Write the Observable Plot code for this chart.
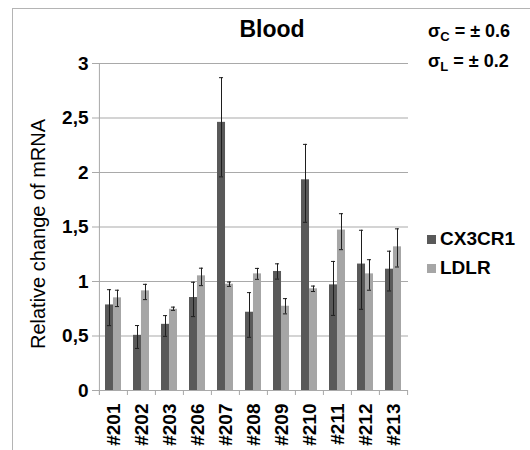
<!DOCTYPE html>
<html>
<head>
<meta charset="utf-8">
<script src="https://cdn.jsdelivr.net/npm/d3@7"></script>
<script src="https://cdn.jsdelivr.net/npm/@observablehq/plot@0.6"></script>
<style>
  html, body { margin: 0; padding: 0; background: #fff; }
  #wrap { position: relative; width: 530px; height: 450px; overflow: hidden; font-family: "Liberation Sans", Arial, sans-serif; color: #000; }
  #wrap svg { position: absolute; left: 0; top: 0; }
  .border { position: absolute; left: 12px; top: 8px; width: 600px; height: 600px; border-left: 1px solid #b4b4b4; border-top: 1px solid #b4b4b4; }
  .title { position: absolute; left: 172px; width: 200px; top: 16px; text-align: center; font-weight: bold; font-size: 23px; }
  .sigma { position: absolute; left: 428px; font-weight: bold; font-size: 18px; white-space: nowrap; }
  .sigma sub { font-size: 13px; vertical-align: -4px; }
  .ylab { position: absolute; left: 38px; top: 234px; transform: translate(-50%, -50%) rotate(-90deg); white-space: nowrap; font-size: 20px; }
  .leg { position: absolute; left: 427px; font-weight: bold; font-size: 19px; white-space: nowrap; display: flex; align-items: center; }
  .leg i { display: inline-block; width: 9px; height: 9px; margin-right: 4px; }
</style>
</head>
<body>
<div id="wrap"></div>
<script>
const categories = ["#201","#202","#203","#206","#207","#208","#209","#210","#211","#212","#213"];
const seriesNames = ["CX3CR1", "LDLR"];
const seriesColors = ["#595959", "#a6a6a6"];
const cx3cr1     = [0.785, 0.506, 0.607, 0.853, 2.46, 0.718, 1.092, 1.933, 0.969, 1.16, 1.113];
const cx3cr1Up   = [0.14, 0.09, 0.08, 0.14, 0.41, 0.18, 0.07, 0.325, 0.215, 0.31, 0.165];
const cx3cr1Down = [0.19, 0.12, 0.11, 0.175, 0.50, 0.23, 0.07, 0.39, 0.28, 0.415, 0.20];
const ldlr       = [0.85, 0.914, 0.745, 1.052, 0.975, 1.07, 0.773, 0.933, 1.472, 1.07, 1.318];
const ldlrUp     = [0.07, 0.06, 0.02, 0.07, 0.02, 0.05, 0.07, 0.025, 0.15, 0.13, 0.165];
const ldlrDown   = [0.08, 0.08, 0.01, 0.09, 0.02, 0.05, 0.07, 0.025, 0.18, 0.15, 0.185];
const yTicks = [0, 0.5, 1, 1.5, 2, 2.5, 3];
const title = "Blood";
const sigmaC = "± 0.6";
const sigmaL = "± 0.2";
const yLabel = "Relative change of mRNA";

const rows = [];
categories.forEach((c, i) => {
  rows.push({cat: c, series: seriesNames[0], value: cx3cr1[i], lo: cx3cr1[i] - cx3cr1Down[i], hi: cx3cr1[i] + cx3cr1Up[i]});
  rows.push({cat: c, series: seriesNames[1], value: ldlr[i], lo: ldlr[i] - ldlrDown[i], hi: ldlr[i] + ldlrUp[i]});
});
const C = rows.filter(d => d.series === seriesNames[0]);
const L = rows.filter(d => d.series === seriesNames[1]);

const W = 530, H = 450, mL = 98, mR = 122, mT = 63, mB = 60;
const step = (W - mL - mR) / categories.length;
const padIn = 0.434;
const bw = step * (1 - padIn);
const half = bw / 2;
const errColor = "#1e1e1e";
const axisGray = "#a9a9a9";

const plot = Plot.plot({
  width: W, height: H,
  marginLeft: mL, marginRight: mR, marginTop: mT, marginBottom: mB,
  style: {fontFamily: "'Liberation Sans', Arial, sans-serif", background: "transparent", color: "#000"},
  x: {domain: categories, paddingInner: padIn, paddingOuter: padIn / 2, axis: null, label: null},
  y: {domain: [0, 3], axis: null, label: null},
  marks: [
    Plot.ruleY(yTicks, {y: d => d, stroke: axisGray, strokeWidth: 1}),
    Plot.ruleX([categories[0]], {x: d => d, dx: -step / 2, stroke: axisGray, insetBottom: -5}),
    Plot.axisY(yTicks, {anchor: "left", tickSize: 6, tickPadding: 4, stroke: axisGray, fontSize: 19, fontWeight: "bold", label: null,
      tickFormat: d => String(d).replace(".", ",")}),
    Plot.axisX(categories, {anchor: "bottom", tickSize: 5, dx: -step / 2, stroke: axisGray, tickFormat: () => "", label: null}),
    Plot.axisX([categories[categories.length - 1]], {anchor: "bottom", tickSize: 5, dx: step / 2, stroke: axisGray, tickFormat: () => "", label: null}),
    Plot.axisX(categories, {anchor: "bottom", tickSize: 0, tickPadding: 13, tickRotate: -90, fontSize: 19, fontWeight: "bold", label: null}),
    Plot.barY(C, {x: "cat", y: "value", fill: seriesColors[0], insetRight: half}),
    Plot.barY(L, {x: "cat", y: "value", fill: seriesColors[1], insetLeft: half}),
    Plot.ruleX(C, {x: "cat", y1: "lo", y2: "hi", dx: -half / 2, stroke: errColor, strokeWidth: 1}),
    Plot.ruleX(L, {x: "cat", y1: "lo", y2: "hi", dx: half / 2, stroke: errColor, strokeWidth: 1}),
    Plot.tickY(C, {x: "cat", y: "hi", dx: -half / 2, insetLeft: half - 2, insetRight: half - 2, stroke: errColor}),
    Plot.tickY(C, {x: "cat", y: "lo", dx: -half / 2, insetLeft: half - 2, insetRight: half - 2, stroke: errColor}),
    Plot.tickY(L, {x: "cat", y: "hi", dx: half / 2, insetLeft: half - 2, insetRight: half - 2, stroke: errColor}),
    Plot.tickY(L, {x: "cat", y: "lo", dx: half / 2, insetLeft: half - 2, insetRight: half - 2, stroke: errColor})
  ]
});

const wrap = document.getElementById("wrap");
wrap.innerHTML = `
  <div class="border"></div>
  <div class="title">${title}</div>
  <div class="sigma" style="top:21px">σ<sub>C</sub> = ${sigmaC}</div>
  <div class="sigma" style="top:51px">σ<sub>L</sub> = ${sigmaL}</div>
  <div class="ylab">${yLabel}</div>
  <div class="leg" style="top:228px"><i style="background:${seriesColors[0]}"></i>${seriesNames[0]}</div>
  <div class="leg" style="top:257px"><i style="background:${seriesColors[1]}"></i>${seriesNames[1]}</div>
`;
wrap.appendChild(plot);
</script>
</body>
</html>
